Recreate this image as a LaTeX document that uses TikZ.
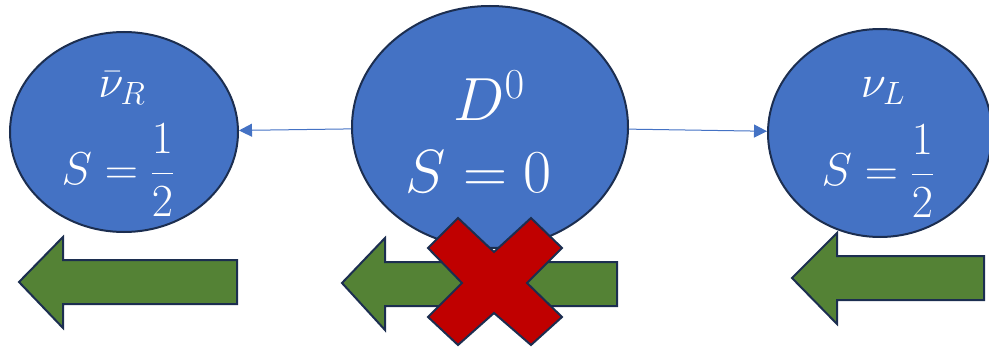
\RequirePackage{fix-cm}
\documentclass[tikz,border=0pt]{standalone}
\usepackage{amsmath}
\usetikzlibrary{shapes.geometric,arrows.meta}
\definecolor{pblue}{HTML}{4472C4}
\definecolor{pnavy}{HTML}{1C2E50}
\definecolor{pgreen}{HTML}{548235}
\definecolor{pred}{HTML}{C00000}
\tikzset{
  particle/.style={ellipse, draw=pnavy, line width=2pt, fill=pblue, inner sep=0pt},
  conn/.style={draw=pblue, line width=1pt, -{Triangle[length=13pt,width=13pt]}},
  lbl/.style={text=white, inner sep=0pt},
  bigtxt/.style={lbl, font=\fontsize{61}{70}\selectfont},
  midtxt/.style={lbl, font=\fontsize{46}{52}\selectfont},
  greenarrow/.style={draw=pnavy, line width=2pt, fill=pgreen, line join=miter},
  cross/.style={draw=pnavy, line width=2pt, fill=pred, line join=miter},
}
\begin{document}
\begin{tikzpicture}[x=1pt,y=-1pt]
\useasboundingbox (0,0) rectangle (989,350);
% particles
\node[particle, minimum width=228pt, minimum height=200pt] (L) at (124,132) {};
\node[particle, minimum width=276pt, minimum height=242pt] (C) at (490,127) {};
\node[particle, minimum width=224pt, minimum height=208pt] (R) at (880,133) {};
% labels
\node[midtxt] (Ln) at (122,88) {$\bar{\nu}_R$};
\node[midtxt] (Ls) at (118,170) {$S=\dfrac{1}{2}$};
\node[bigtxt] (Cd) at (489,96) {$D^0$};
\node[bigtxt] (Cs) at (479,172) {$S=0$};
\node[midtxt] (Rn) at (883,91) {$\nu_L$};
\node[midtxt] (Rs) at (878,171) {$S=\dfrac{1}{2}$};
% connectors
\draw[conn] (C) -- (L);
\draw[conn] (C) -- (R);
% green arrows
\draw[greenarrow] (19,282) -- (63,237) -- (63,260) -- (237,260) -- (237,304) -- (63,304) -- (63,328) -- cycle;
\draw[greenarrow] (342,283) -- (385,238) -- (385,262) -- (617,262) -- (617,306) -- (385,306) -- (385,330) -- cycle;
\draw[greenarrow] (792,278) -- (837,233) -- (837,256) -- (984,256) -- (984,300) -- (837,300) -- (837,324) -- cycle;
% cross
\draw[cross] (428,248) -- (458,218) -- (494,252) -- (531,218) -- (562,248) -- (527,283) -- (562,317) -- (531,345) -- (494,313) -- (458,345) -- (428,317) -- (462,283) -- cycle;
\end{tikzpicture}
\end{document}
